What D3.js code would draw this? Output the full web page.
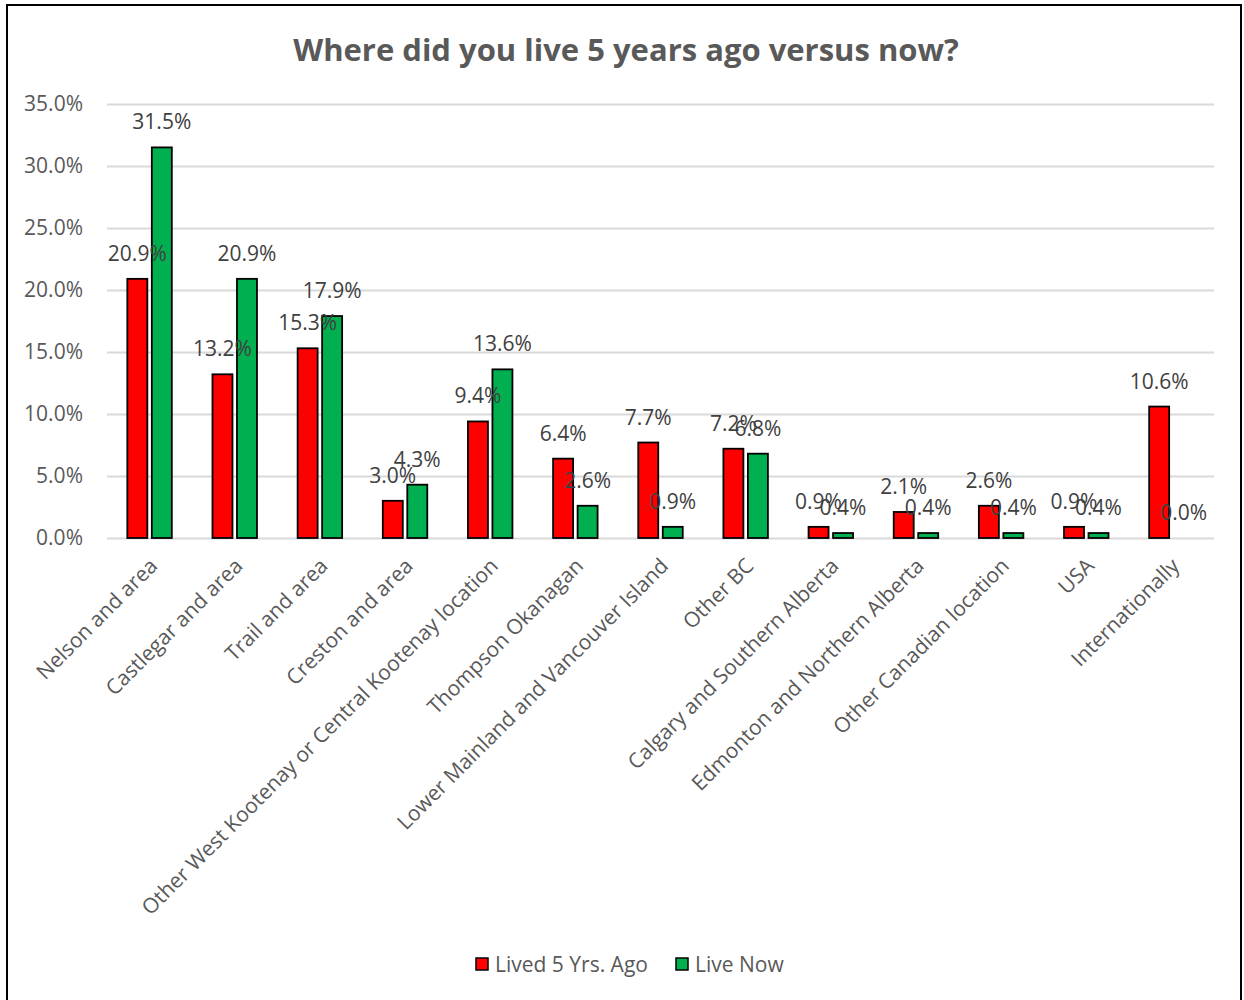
<!DOCTYPE html>
<html>
<head>
<meta charset="utf-8">
<script src="https://cdn.jsdelivr.net/npm/d3@7"></script>
<style>
  html, body { margin: 0; padding: 0; background: #fff; }
  svg { display: block; font-family: "Open Sans", "DejaVu Sans", sans-serif; }
</style>
</head>
<body>
<svg id="chart" width="1244" height="1000"></svg>
<script>
// Survey: where respondents lived five years ago versus now (share of respondents, %)
const categories = [
  "Nelson and area",
  "Castlegar and area",
  "Trail and area",
  "Creston and area",
  "Other West Kootenay or Central Kootenay location",
  "Thompson Okanagan",
  "Lower Mainland and Vancouver Island",
  "Other BC",
  "Calgary and Southern Alberta",
  "Edmonton and Northern Alberta",
  "Other Canadian location",
  "USA",
  "Internationally"
];
const lived5YrsAgo = [20.9, 13.2, 15.3, 3.0, 9.4, 6.4, 7.7, 7.2, 0.9, 2.1, 2.6, 0.9, 10.6];
const liveNow      = [31.5, 20.9, 17.9, 4.3, 13.6, 2.6, 0.9, 6.8, 0.4, 0.4, 0.4, 0.4, 0.0];
const seriesNames  = ["Lived 5 Yrs. Ago", "Live Now"];
const seriesColors = ["#ff0000", "#00b050"];
const yTicks = [0, 5, 10, 15, 20, 25, 30, 35];

const svg = d3.select("#chart");
const textColor = "#595959";

// outer frame
svg.append("rect")
  .attr("x", 7).attr("y", 5)
  .attr("width", 1234).attr("height", 1000)
  .attr("fill", "#fff").attr("stroke", "#000").attr("stroke-width", 2);

const plot = { left: 107, right: 1214, top: 104, bottom: 538 };

const x = d3.scaleBand()
  .domain(categories)
  .range([plot.left, plot.right])
  .paddingInner(0).paddingOuter(0);

const x1 = d3.scaleBand()
  .domain(seriesNames)
  .range([0, x.bandwidth()])
  .paddingInner(0.184)
  .paddingOuter(0.83);

const y = d3.scaleLinear().domain([0, 35]).range([plot.bottom, plot.top]);

// title
svg.append("text")
  .attr("x", 626).attr("y", 61)
  .attr("text-anchor", "middle")
  .attr("font-size", 31).attr("font-weight", "bold")
  .attr("fill", textColor)
  .text("Where did you live 5 years ago versus now?");

// gridlines + y labels
const yAxis = d3.axisLeft(y)
  .tickValues(yTicks)
  .tickSize(-(plot.right - plot.left))
  .tickPadding(24)
  .tickFormat(d => d.toFixed(1) + "%");

const gy = svg.append("g")
  .attr("transform", `translate(${plot.left},0)`)
  .call(yAxis);
gy.select(".domain").remove();
gy.selectAll(".tick line").attr("stroke", "#d9d9d9").attr("stroke-width", 2);
gy.selectAll(".tick text")
  .attr("font-size", 21).attr("fill", textColor)
  .attr("font-family", "'Open Sans', sans-serif");

// bars
const rows = categories.map((c, i) => ({ cat: c, vals: [lived5YrsAgo[i], liveNow[i]] }));

const groups = svg.append("g").selectAll("g")
  .data(rows).join("g")
  .attr("transform", d => `translate(${x(d.cat)},0)`);

groups.selectAll("rect")
  .data(d => d.vals.map((v, k) => ({ v, k })))
  .join("rect")
  .attr("x", d => x1(seriesNames[d.k]))
  .attr("y", d => y(d.v))
  .attr("width", x1.bandwidth())
  .attr("height", d => y(0) - y(d.v))
  .attr("fill", d => seriesColors[d.k])
  .attr("stroke", "#000").attr("stroke-width", 1.8);

// value labels
groups.selectAll("text.val")
  .data(d => d.vals.map((v, k) => ({ v, k })))
  .join("text")
  .attr("class", "val")
  .attr("x", d => x1(seriesNames[d.k]) + x1.bandwidth() / 2)
  .attr("y", d => y(d.v) - 18)
  .attr("text-anchor", "middle")
  .attr("font-size", 21)
  .attr("fill", "#404040")
  .text(d => d.v.toFixed(1) + "%");

// category labels, rotated
svg.append("g").selectAll("text")
  .data(categories).join("text")
  .attr("transform", d => `translate(${x(d) + x.bandwidth() / 2 + 4},${plot.bottom + 24}) rotate(-45)`)
  .attr("text-anchor", "end")
  .attr("dy", "0.35em")
  .attr("font-size", 21)
  .attr("fill", textColor)
  .text(d => d);

// legend
const legend = svg.append("g").attr("transform", "translate(476,958)");
const legendItems = [
  { name: seriesNames[0], color: seriesColors[0], dx: 0 },
  { name: seriesNames[1], color: seriesColors[1], dx: 200 }
];
const li = legend.selectAll("g").data(legendItems).join("g")
  .attr("transform", d => `translate(${d.dx},0)`);
li.append("rect")
  .attr("width", 12).attr("height", 12)
  .attr("fill", d => d.color).attr("stroke", "#000").attr("stroke-width", 1.5);
li.append("text")
  .attr("x", 19).attr("y", 6).attr("dy", "0.36em")
  .attr("font-size", 21).attr("fill", textColor)
  .text(d => d.name);
</script>
</body>
</html>
